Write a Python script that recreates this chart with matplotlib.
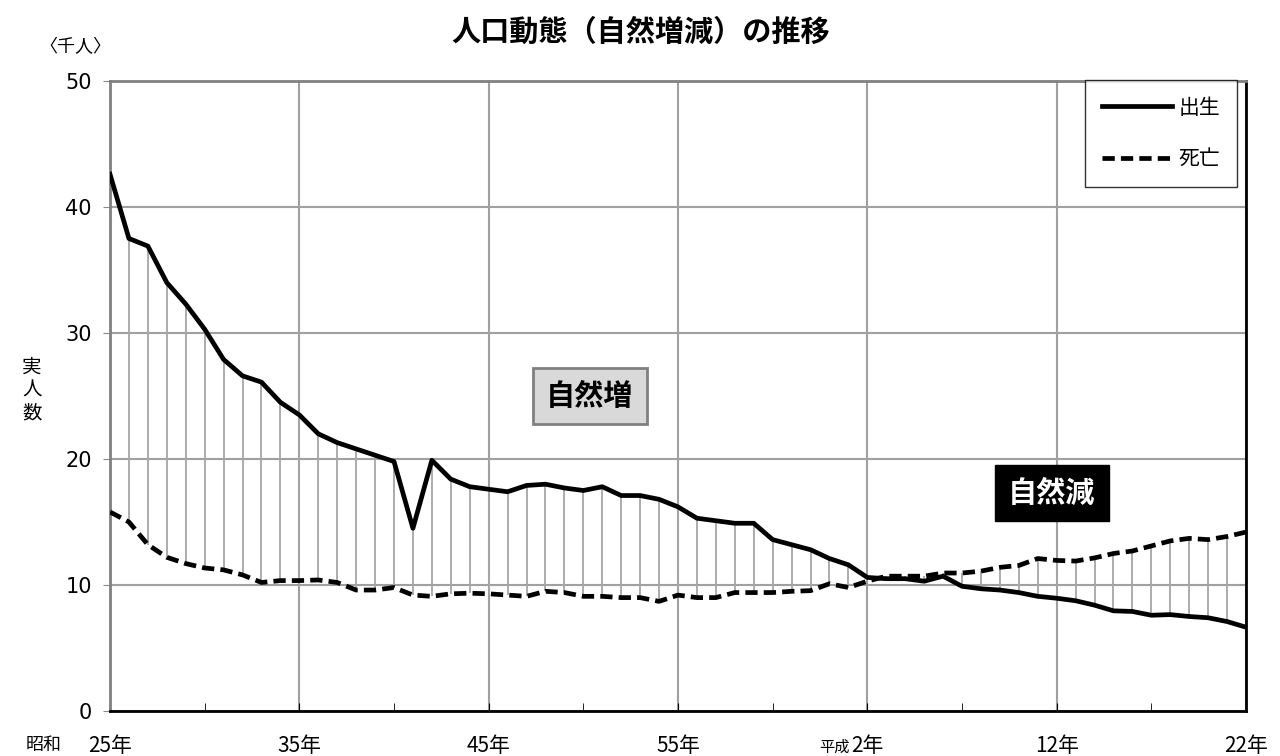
import matplotlib.pyplot as plt
from matplotlib.ticker import MultipleLocator

plt.rcParams['font.family'] = ['Noto Sans CJK JP', 'DejaVu Sans']

# 1950 (昭和25年) .. 2010 (平成22年), values in thousands
years = list(range(1950, 2011))
births = [42.6, 37.5, 36.9, 34.0, 32.3, 30.3, 27.9, 26.6, 26.1, 24.5,
          23.5, 22.0, 21.3, 20.8, 20.3, 19.8, 14.5, 19.9, 18.4, 17.8,
          17.6, 17.4, 17.9, 18.0, 17.7, 17.5, 17.8, 17.1, 17.1, 16.8,
          16.2, 15.3, 15.1, 14.9, 14.9, 13.6, 13.2, 12.8, 12.1, 11.6,
          10.6, 10.5, 10.5, 10.3, 10.7, 9.9, 9.7, 9.6, 9.4, 9.1,
          8.95, 8.75, 8.4, 7.95, 7.9, 7.6, 7.65, 7.5, 7.4, 7.1,
          6.65]
deaths = [15.8, 15.0, 13.2, 12.2, 11.7, 11.35, 11.2, 10.8, 10.2, 10.35,
          10.35, 10.4, 10.2, 9.6, 9.6, 9.8, 9.2, 9.1, 9.3, 9.35,
          9.3, 9.2, 9.1, 9.5, 9.4, 9.1, 9.1, 9.0, 9.0, 8.7,
          9.2, 9.0, 9.0, 9.4, 9.4, 9.4, 9.5, 9.55, 10.1, 9.8,
          10.3, 10.7, 10.7, 10.7, 10.95, 10.95, 11.1, 11.4, 11.55, 12.1,
          11.95, 11.9, 12.15, 12.5, 12.7, 13.1, 13.5, 13.7, 13.6, 13.85,
          14.2]

grid_years = [1950, 1960, 1970, 1980, 1990, 2000, 2010]
era_labels = ['25年', '35年', '45年', '55年', '2年', '12年', '22年']

fig = plt.figure(figsize=(12.8, 7.56), dpi=100)
ax = fig.add_axes([110 / 1280, 1 - 711 / 756, 1136 / 1280, 630 / 756])

# high-low lines between births and deaths
ax.vlines(years, [min(b, d) for b, d in zip(births, deaths)],
          [max(b, d) for b, d in zip(births, deaths)],
          color='#a6a6a6', lw=1.3, zorder=2)

ax.plot(years, births, color='black', lw=3.4, label='出生', zorder=4)
ax.plot(years, deaths, color='black', lw=3.4, ls=(0, (2.6, 1.3)),
        label='死亡', zorder=4)

ax.set_xlim(1950, 2010)
ax.set_ylim(0, 50)
ax.yaxis.set_major_locator(MultipleLocator(10))
ax.set_xticks(grid_years)
ax.xaxis.set_minor_locator(MultipleLocator(5))
ax.grid(True, which='major', color='#a0a0a0', lw=1.5, zorder=1)
ax.tick_params(axis='x', which='both', direction='in', length=6,
               labelbottom=False, color='black')
ax.tick_params(axis='y', direction='out', length=5, labelsize=15,
               color='#888888', pad=8)
for lab in ax.get_yticklabels():
    lab.set_fontfamily(['Liberation Sans Narrow', 'DejaVu Sans'])

for side in ['top', 'left']:
    ax.spines[side].set_color('#808080')
    ax.spines[side].set_linewidth(2)
for side in ['bottom', 'right']:
    ax.spines[side].set_color('black')
    ax.spines[side].set_linewidth(2)

# x labels (Japanese era years)
for yr, lab in zip(grid_years, era_labels):
    ax.text(yr, -2.75, lab, ha='center', va='center', fontsize=15,
            transform=ax.transData, clip_on=False)
fig.text(44 / 1280, 1 - 745 / 756, '昭和', ha='center', va='center', fontsize=13)
fig.text(834 / 1280, 1 - 747 / 756, '平成', ha='center', va='center', fontsize=11)

leg = ax.legend(loc='upper right', fontsize=15, frameon=True, fancybox=False,
                handlelength=3.4, labelspacing=1.4, borderpad=0.8,
                handletextpad=0.3, borderaxespad=0,
                bbox_to_anchor=(1237 / 1280, 1 - 80 / 756),
                bbox_transform=fig.transFigure)
leg.get_frame().set_edgecolor('black')
leg.get_frame().set_linewidth(1)

ax.text(1975.35, 25.0, '自然増', ha='center', va='center', fontsize=21,
        fontweight='bold', color='black', zorder=6,
        bbox=dict(boxstyle='square,pad=0.45', facecolor='#d9d9d9',
                  edgecolor='#808080', lw=2))
ax.text(1999.75, 17.3, '自然減', ha='center', va='center', fontsize=21,
        fontweight='bold', color='white', zorder=6,
        bbox=dict(boxstyle='square,pad=0.45', facecolor='black',
                  edgecolor='black', lw=1))

fig.text(641 / 1280, 1 - 32 / 756, '人口動態（自然増減）の推移', ha='center',
         va='center', fontsize=21, fontweight='bold')
fig.text(75 / 1280, 1 - 47 / 756, '〈千人〉', ha='center', va='center', fontsize=13)
fig.text(32 / 1280, 1 - 390 / 756, '実\n人\n数', ha='center', va='center',
         fontsize=14, linespacing=1.1)

fig.savefig('out.png', dpi=100)
